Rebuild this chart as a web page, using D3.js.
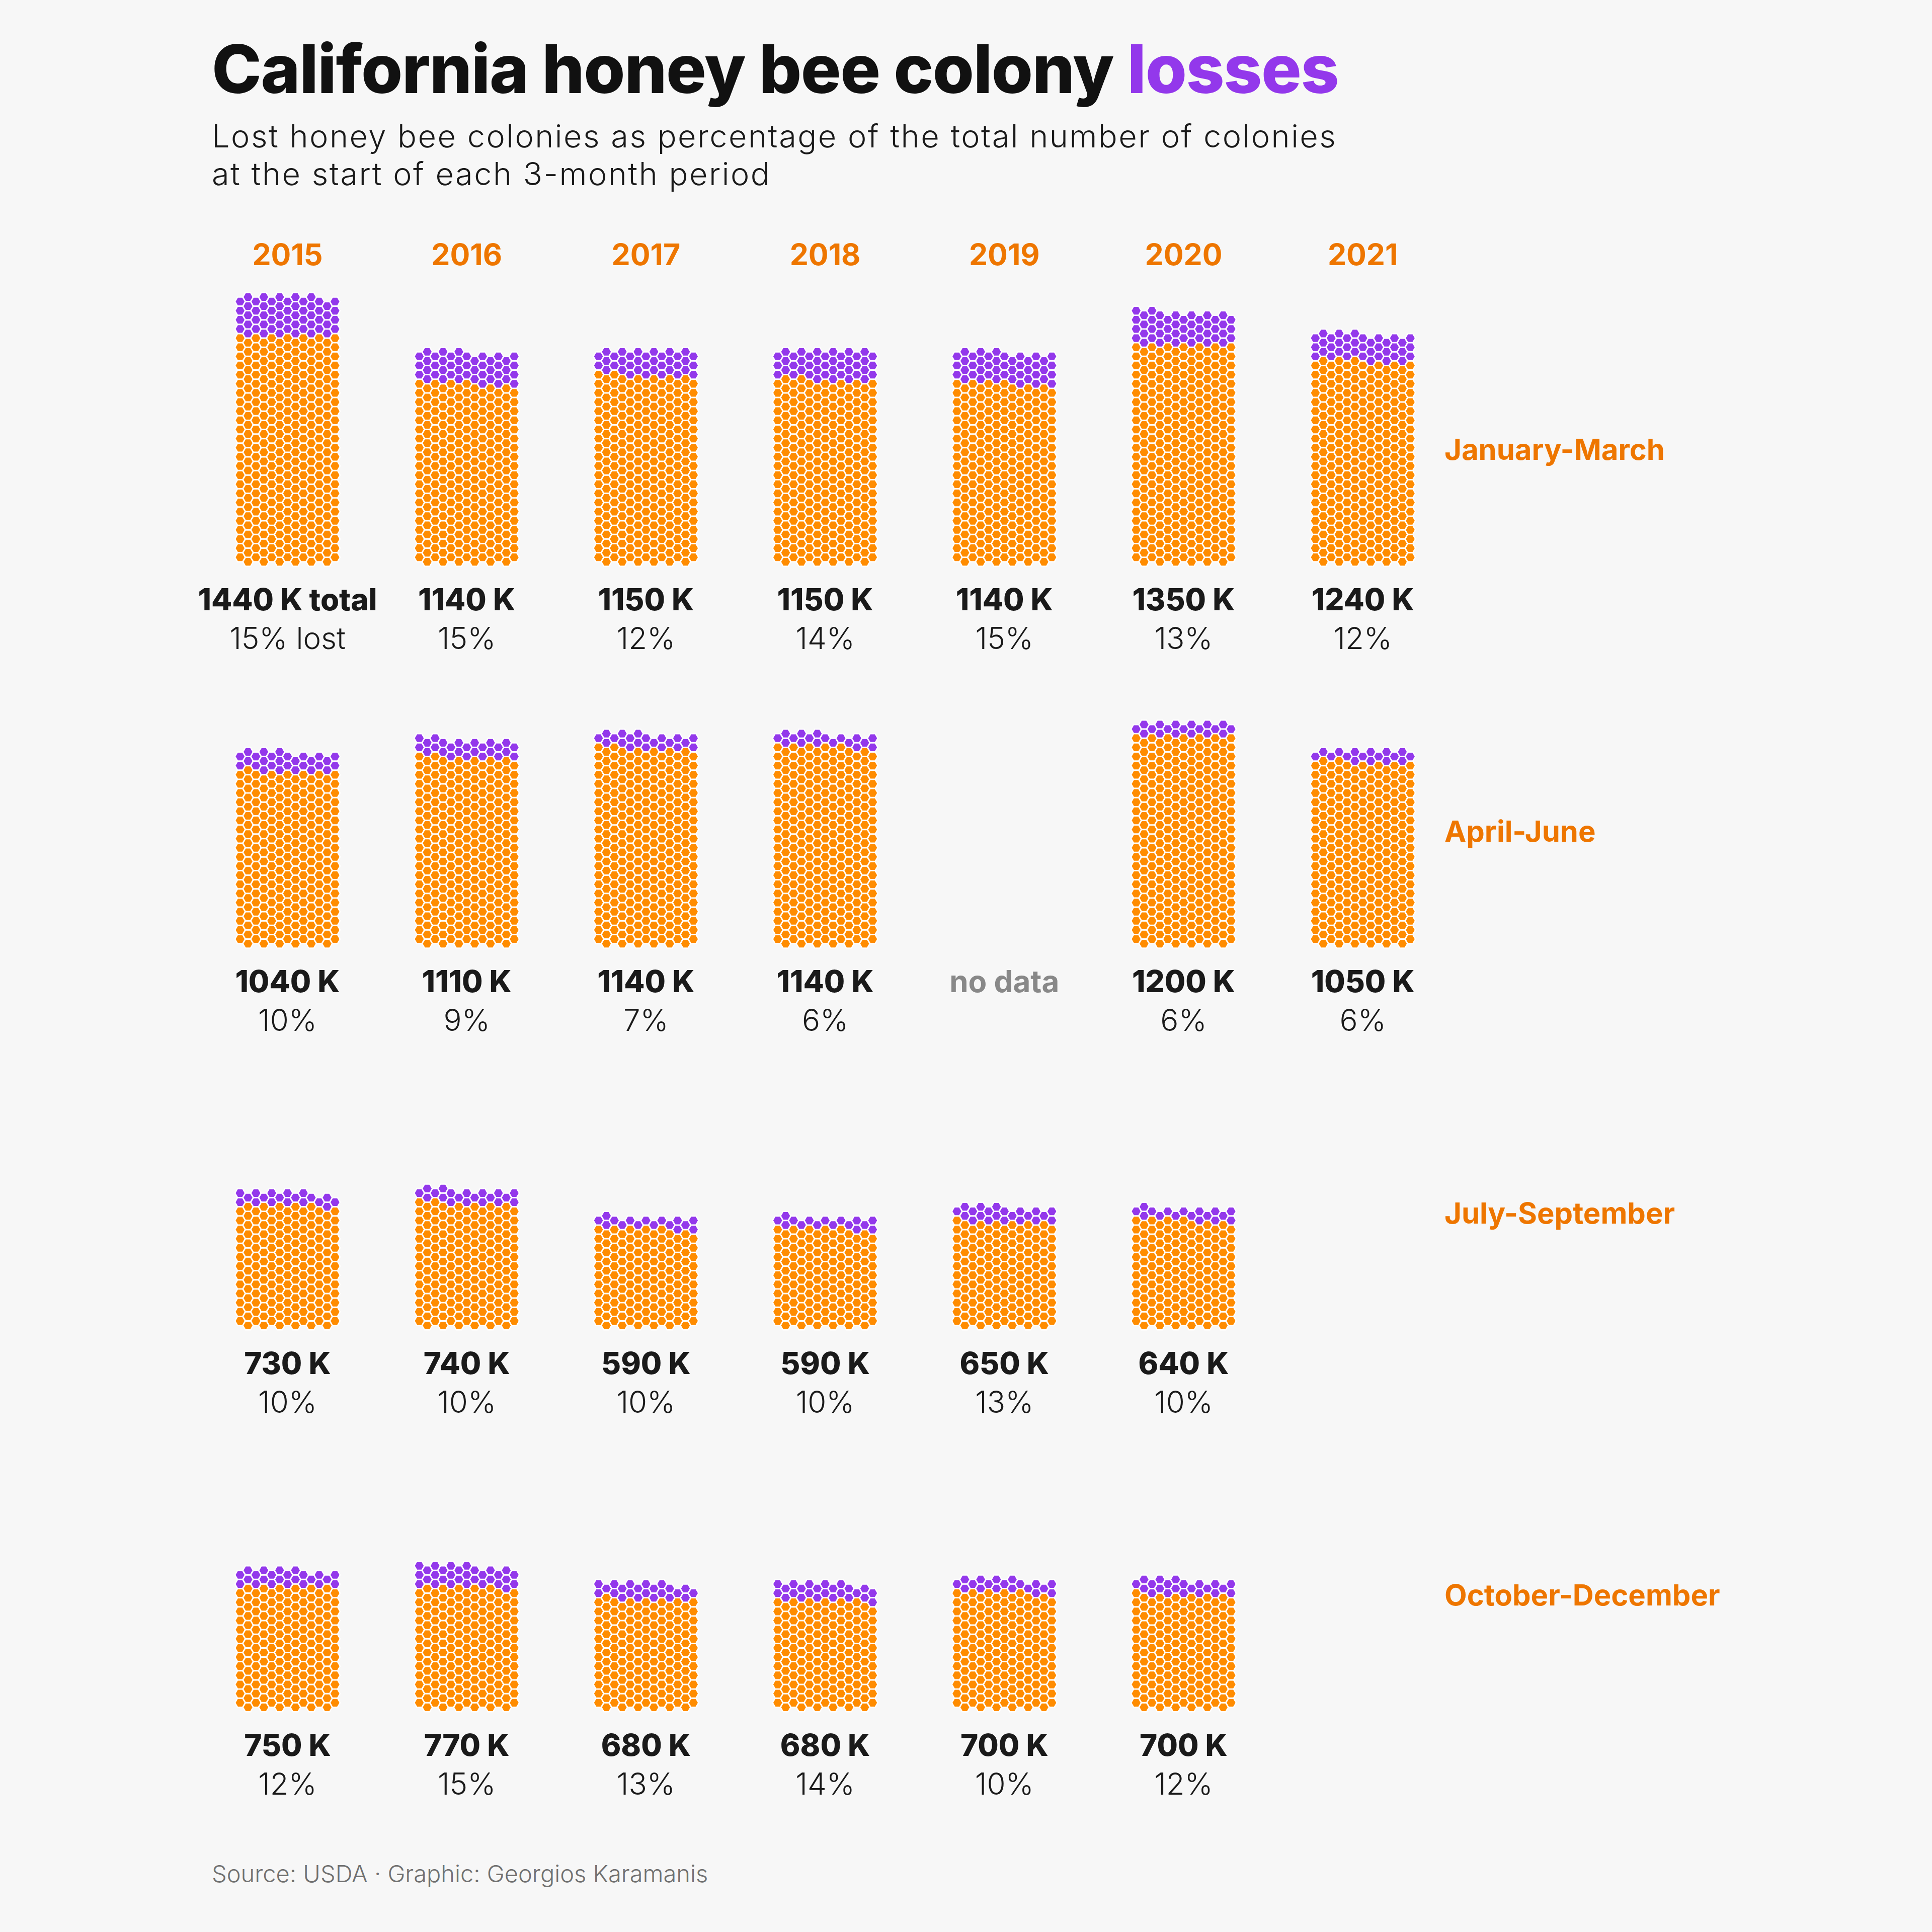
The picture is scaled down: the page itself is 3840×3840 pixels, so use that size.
<!DOCTYPE html>
<html>
<head>
<meta charset="utf-8">
<script src="https://cdn.jsdelivr.net/npm/d3@7"></script>
<style>
  body { margin: 0; background: #f7f7f7; }
  svg { display: block; }
</style>
</head>
<body>
<svg id="chart"></svg>
<script>
// data: colonies at start of quarter (thousands) and % lost
var years = [2015, 2016, 2017, 2018, 2019, 2020, 2021];
var quarters = ["January-March", "April-June", "July-September", "October-December"];

var colJanMar = [1440, 1140, 1150, 1150, 1140, 1350, 1240];
var lostJanMar = [15, 15, 12, 14, 15, 13, 12];
var colAprJun = [1040, 1110, 1140, 1140, null, 1200, 1050];
var lostAprJun = [10, 9, 7, 6, null, 6, 6];
var colJulSep = [730, 740, 590, 590, 650, 640, null];
var lostJulSep = [10, 10, 10, 10, 13, 10, null];
var colOctDec = [750, 770, 680, 680, 700, 700, null];
var lostOctDec = [12, 15, 13, 14, 10, 12, null];

var colonies = [colJanMar, colAprJun, colJulSep, colOctDec];
var lost = [lostJanMar, lostAprJun, lostJulSep, lostOctDec];

var hexUnit = 3.77; // thousand colonies per hexagon

var W = 3840, H = 3840;
var orange = "#ff8c00", purple = "#9338eb", labelOrange = "#ee7600";

var svg = d3.select("#chart").attr("width", W).attr("height", H);
svg.append("rect").attr("width", W).attr("height", H).attr("fill", "#f7f7f7");

var x = d3.scalePoint().domain(years).range([571.5, 2708.7]);
var y = d3.scalePoint().domain(quarters).range([1116.7, 3393.4]);

// hex grid
var dx = 15.72, dyHalf = 9.075, hexR = 10.18;
var hexPath = d3.range(6).map(function (i) {
  var a = Math.PI / 3 * i;
  return [hexR * Math.cos(a), hexR * Math.sin(a)];
});
var hexD = "M" + hexPath.map(function (p) { return p[0].toFixed(2) + "," + p[1].toFixed(2); }).join("L") + "Z";

function hexCells(total, pct, cx, yb) {
  var lostK = total * pct / 100;
  var nLost = Math.round(lostK / hexUnit);
  var n = Math.round((total - lostK) / hexUnit) + nLost;
  var cells = [];
  for (var k = 0; k < n; k++) {
    var pair = Math.floor(k / 13), rem = k % 13, s, col;
    if (rem < 6) { s = 2 * pair; col = 2 * rem + 1; }
    else { s = 2 * pair + 1; col = 2 * (rem - 6); }
    cells.push({ x: cx + (col - 6) * dx, y: yb - s * dyHalf, lost: k >= n - nLost });
  }
  return cells;
}

// title
var title = svg.append("text")
  .attr("x", 421).attr("y", 185)
  .attr("font-family", "Inter").attr("font-weight", 800).attr("font-size", 133)
  .attr("letter-spacing", "-1.5")
  .attr("fill", "#111");
title.append("tspan").text("California honey bee colony ");
title.append("tspan").attr("fill", purple).text("losses");

svg.append("text")
  .attr("x", 421).attr("y", 293)
  .attr("font-family", "Inter").attr("font-weight", 300).attr("font-size", 63)
  .attr("letter-spacing", "2.5")
  .attr("fill", "#1a1a1a")
  .text("Lost honey bee colonies as percentage of the total number of colonies");
svg.append("text")
  .attr("x", 421).attr("y", 368)
  .attr("font-family", "Inter").attr("font-weight", 300).attr("font-size", 63)
  .attr("letter-spacing", "2.5")
  .attr("fill", "#1a1a1a")
  .text("at the start of each 3-month period");

// year labels
svg.selectAll("text.year")
  .data(years)
  .enter()
  .append("text")
  .attr("class", "year")
  .attr("x", function (d) { return x(d); })
  .attr("y", 526.7)
  .attr("text-anchor", "middle")
  .attr("font-family", "Inter").attr("font-weight", 700).attr("font-size", 59)
  .attr("fill", labelOrange)
  .text(function (d) { return d; });

// quarter labels
svg.selectAll("text.quarter")
  .data(quarters)
  .enter()
  .append("text")
  .attr("class", "quarter")
  .attr("x", 2871)
  .attr("y", function (d) { return y(d) - 202.7; })
  .attr("font-family", "Inter").attr("font-weight", 700).attr("font-size", 58)
  .attr("fill", labelOrange)
  .text(function (d) { return d; });

// hex columns and labels
quarters.forEach(function (q, qi) {
  years.forEach(function (yr, yi) {
    var total = colonies[qi][yi];
    var pct = lost[qi][yi];
    var cx = x(yr), yb = y(q);
    if (total == null) {
      if (qi == 1) {
        svg.append("text")
          .attr("x", cx).attr("y", yb + 96.3)
          .attr("text-anchor", "middle")
          .attr("font-family", "Inter").attr("font-weight", 700).attr("font-size", 60)
          .attr("fill", "#888")
          .text("no data");
      }
      return;
    }
    var g = svg.append("g").attr("class", "hexes");
    g.selectAll("path")
      .data(hexCells(total, pct, cx, yb))
      .enter()
      .append("path")
      .attr("d", hexD)
      .attr("transform", function (d) { return "translate(" + d.x + "," + d.y + ")"; })
      .attr("fill", function (d) { return d.lost ? purple : orange; })
      .attr("stroke", "#ffffff")
      .attr("stroke-width", 2.4);

    var first = (qi == 0 && yi == 0);
    svg.append("text")
      .attr("x", cx).attr("y", yb + 96.3)
      .attr("text-anchor", "middle")
      .attr("font-family", "Inter").attr("font-weight", 800).attr("font-size", 60)
      .attr("fill", "#1a1a1a")
      .text(total + " K" + (first ? " total" : ""));
    svg.append("text")
      .attr("x", cx).attr("y", yb + 173.5)
      .attr("text-anchor", "middle")
      .attr("font-family", "Inter").attr("font-weight", 300).attr("font-size", 60)
      .attr("fill", "#1a1a1a")
      .text(pct + "%" + (first ? " lost" : ""));
  });
});

// caption
svg.append("text")
  .attr("x", 421).attr("y", 3741)
  .attr("font-family", "Inter").attr("font-weight", 300).attr("font-size", 47)
  .attr("fill", "#707070")
  .text("Source: USDA \u00b7 Graphic: Georgios Karamanis");
</script>
</body>
</html>
